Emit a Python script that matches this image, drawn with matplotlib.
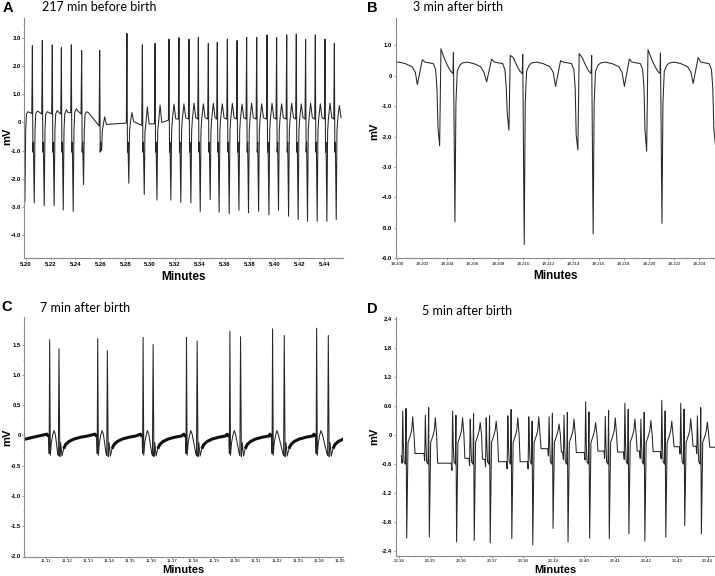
import numpy as np
import matplotlib.pyplot as plt
from matplotlib.ticker import MultipleLocator, FixedLocator, FixedFormatter

# ---------------- Panel A: 217 min before birth ----------------
a_times = [5.1979, 5.2054, 5.2134, 5.2214, 5.2287, 5.2367, 5.2450, 5.2595, 5.2814,
           5.2938, 5.3040, 5.3152, 5.3232, 5.3313, 5.3388, 5.3468, 5.3540, 5.3621,
           5.3699, 5.3776, 5.3857, 5.3940, 5.4017, 5.4098, 5.4175, 5.4250, 5.4328,
           5.4406, 5.4481]
a_peak = [2.7, 2.72, 2.9, 2.75, 2.65, 2.75, 2.55, 2.55, 3.15, 2.75, 2.8, 2.95, 3.0,
          2.95, 3.01, 2.8, 2.84, 2.95, 2.9, 3.01, 3.01, 3.1, 3.01, 3.1, 3.13, 2.94,
          3.1, 2.95, 2.8]
a_trough = [-2.8, -2.85, -2.95, -2.95, -3.1, -3.15, -2.2, -1.0, -2.15, -2.55, -2.75,
            -2.75, -2.83, -2.85, -3.15, -2.73, -3.18, -3.23, -3.11, -3.2, -3.15,
            -3.27, -3.11, -3.32, -3.44, -3.5, -3.5, -3.5, -3.44]
a_hump = [0.38, 0.4, 0.38, 0.42, 0.45, 0.48, 0.38, 0.2, 0.35, 0.55, 0.62, 0.65, 0.66,
          0.68, 0.66, 0.68, 0.66, 0.68, 0.65, 0.68, 0.66, 0.68, 0.66, 0.68, 0.66,
          0.68, 0.66, 0.68, 0.6]
a_base = [0.3, 0.32, 0.3, 0.3, 0.3, 0.35, 0.3, -0.12, -0.02, -0.1, -0.05, 0.08, 0.12,
          0.12, 0.12, 0.12, 0.12, 0.12, 0.12, 0.12, 0.12, 0.12, 0.12, 0.12, 0.12,
          0.12, 0.12, 0.12, 0.12, 0.05]
a_shape_t = [-0.0005, 0.0, 0.0004, 0.0008, 0.0015, 0.0021, 0.0027, 0.0040, 0.0054]
a_xticks = [5.20, 5.22, 5.24, 5.26, 5.28, 5.30, 5.32, 5.34, 5.36, 5.38, 5.40, 5.42, 5.44]
a_xlabels = ['5.20', '5.22', '5.24', '5.26', '5.28', '5.30', '5.32', '5.34', '5.36',
             '5.38', '5.40', '5.42', '5.44']
a_yticks = [3, 2, 1, 0, -1, -2, -3, -4]
a_ylabels = ['3.0', '2.0', '1.0', '0', '-1.0', '-2.0', '-3.0', '-4.0']

# ---------------- Panel B: 3 min after birth ----------------
b_times = [18.19916, 18.2046, 18.2101, 18.21557, 18.22103, 18.22649]
b_drop1 = [-1.7, -1.7, -1.25, -1.95, -1.8, -1.7]
b_drop2 = [-2.3, -2.3, -1.79, -2.44, -2.48, -2.3]
b_rebound = [0.88, 0.89, 0.67, 0.73, 0.86, 0.85]
b_spike = [0.75, 0.76, 0.7, 0.67, 0.75, 0.75]
b_down = [-4.8, -4.8, -5.55, -5.2, -4.85, -4.9]
b_dip = [-0.25, -0.29, -0.2, -0.35, -0.35, -0.25]
b_hump = [0.55, 0.53, 0.55, 0.5, 0.55, 0.6]
b_shape_t = [-113, -98, -90, -65, -58, -54, -51, -46, -42, -33, -23, -13, -6, -4.5, 0,
             3, 7, 15, 22, 37, 57, 77, 87]
b_xticks = [18.200, 18.202, 18.204, 18.206, 18.208, 18.210, 18.212, 18.214, 18.216,
            18.218, 18.220, 18.222, 18.224]
b_xlabels = ['18.200', '18.202', '18.204', '18.206', '18.208', '18.210', '18.212',
             '18.214', '18.216', '18.218', '18.220', '18.222', '18.224']
b_yticks = [1, 0, -1, -2, -3, -4, -5, -6]
b_ylabels = ['1.0', '0', '-1.0', '-2.0', '-3.0', '-4.0', '-5.0', '-6.0']

# ---------------- Panel C: 7 min after birth ----------------
c_times = [11.11159, 11.1345, 11.15614, 11.17682, 11.19751, 11.21787, 11.23887]
c_gap = [0.00445, 0.00461, 0.00477, 0.00509, 0.00509, 0.00557, 0.00557]
c_p1 = [1.58, 1.6, 1.62, 1.62, 1.72, 1.76, 1.77]
c_p2 = [1.43, 1.4, 1.5, 1.56, 1.63, 1.65, 1.65]
c_lead_t = [11.0990, 11.1050]
c_lead_v = [-0.07, -0.02]
c_pre_t = [-8, -3, -1.5, 0, 2, 5, 9, 13, 17]
c_pre_v = [0.02, -0.02, -0.3, None, -0.33, -0.12, 0.0, 0.08, 0.02]
c_post_t = [-4, -2, 0, 2.5, 5, 9, 14, 20, 30, 45, 65, 85]
c_post_v = [-0.3, -0.33, None, -0.35, -0.12, -0.34, -0.22, -0.15, -0.1, -0.06, -0.03, -0.01]
c_xticks = [11.11, 11.12, 11.13, 11.14, 11.15, 11.16, 11.17, 11.18, 11.19, 11.20,
            11.21, 11.22, 11.23, 11.24, 11.25]
c_xlabels = ['11.11', '11.12', '11.13', '11.14', '11.15', '11.16', '11.17', '11.18',
             '11.19', '11.20', '11.21', '11.22', '11.23', '11.24', '11.25']
c_yticks = [1.5, 1.0, 0.5, 0, -0.5, -1.0, -1.5, -2.0]
c_ylabels = ['1.5', '1.0', '0.5', '0', '-0.5', '-1.0', '-1.5', '-2.0']

# ---------------- Panel D: 5 min after birth ----------------
d_times = [23.34237, 23.34971, 23.35855, 23.36427, 23.36945, 23.37646, 23.38326,
           23.38984, 23.39469, 23.4017, 23.40807, 23.41443, 23.41961, 23.4264,
           23.43255, 23.43795]
d_down = [-2.13, -2.11, -2.21, -2.18, -2.23, -2.14, -2.27, -1.93, -2.21, -2.13, -2.14,
          -2.04, -2.19, -2.11, -1.87, -2.04]
d_up1 = [0.5, 0.41, 0.5, 0.33, 0.36, 0.4, 0.38, 0.38, 0.41, 0.69, 0.39, 0.66, 0.33,
         0.72, 0.66, 0.4]
d_up2 = [0.55, 0.57, 0.41, 0.45, 0.4, 0.53, 0.29, 0.45, 0.47, 0.48, 0.51, 0.53, 0.47,
         0.5, 0.54, 0.57]
d_hump = [0.38, 0.36, 0.36, 0.26, 0.29, 0.36, 0.38, 0.23, 0.33, 0.26, 0.36, 0.33, 0.3,
          0.29, 0.34, 0.27]
d_base = [-0.43, -0.38, -0.58, -0.48, -0.5, -0.55, -0.55, -0.28, -0.35, -0.36, -0.33,
          -0.35, -0.33, -0.34, -0.24, -0.23, -0.25]
d_shape_t = [-16, -14, -12, -10, -8, -4, -2, 0, 4, 9, 12, 15, 18, 22, 25]
d_xticks = [23.34, 23.35, 23.36, 23.37, 23.38, 23.39, 23.40, 23.41, 23.42, 23.43, 23.44]
d_xlabels = ['23.34', '23.35', '23.36', '23.37', '23.38', '23.39', '23.40', '23.41',
             '23.42', '23.43', '23.44']
d_yticks = [2.4, 1.8, 1.2, 0.6, 0, -0.6, -1.2, -1.8, -2.4]
d_ylabels = ['2.4', '1.8', '1.2', '0.6', '0', '-0.6', '-1.2', '-1.8', '-2.4']

# ---------------- build traces ----------------
ax_t, ax_v = [], []
for i, t in enumerate(a_times):
    vals = [a_base[i], a_peak[i], -1.05, -0.7, a_trough[i], -0.3, a_base[i],
            a_hump[i], a_base[i] + 0.05]
    ax_t += [t + d for d in a_shape_t]
    ax_v += vals

bx_t, bx_v = [], []
for i, t in enumerate(b_times):
    vals = [b_dip[i], b_hump[i], 0.45, 0.4, 0.2, -0.4, b_drop1[i], b_drop2[i],
            b_rebound[i], 0.6, 0.35, 0.15, 0.08, b_spike[i], b_down[i], -0.9, 0.15,
            0.35, 0.42, 0.45, 0.4, 0.3, 0.12]
    bx_t += [t + d * 2.639e-5 for d in b_shape_t]
    bx_v += vals

cx_t, cx_v, c_band = list(c_lead_t), list(c_lead_v), [True, True]
for i, t in enumerate(c_times):
    for d, v in zip(c_pre_t, c_pre_v):
        cx_t.append(t + d * 1.591e-4)
        cx_v.append(c_p1[i] if v is None else v)
        c_band.append(d in (-8, -3))
    t2 = t + c_gap[i]
    for d, v in zip(c_post_t, c_post_v):
        cx_t.append(t2 + d * 1.591e-4)
        cx_v.append(c_p2[i] if v is None else v)
        c_band.append(d >= 14)
cx_t, cx_v = np.array(cx_t), np.array(cx_v)
c_band_v = np.where(np.array(c_band), cx_v, np.nan)

dx_t, dx_v = [], []
for i, t in enumerate(d_times):
    b0, b1 = d_base[i], d_base[i + 1]
    vals = [b0, b0 - 0.15, d_up1[i], -0.2, -0.55, -0.6, d_up2[i], d_down[i], -0.15,
            -0.05, 0.02, 0.1, d_hump[i], 0.0, b1]
    dx_t += [t + d * 1.0787e-4 for d in d_shape_t]
    dx_v += vals
dx_t.append(23.445)
dx_v.append(d_base[-1])

# ---------------- figure ----------------
W, H = 715, 576
fig = plt.figure(figsize=(W / 100, H / 100), dpi=100)


def make_axes(l, r, top, bot):
    return fig.add_axes([l / W, 1 - bot / H, (r - l) / W, (bot - top) / H])


def style(ax, xt, xl, yt, yl, xminor, yminor, xfs, xweight, ylab_pos, xlab_y,
          xlab_fs=8.5, xpad=1.0):
    for s in ['top', 'right']:
        ax.spines[s].set_visible(False)
    for s in ['left', 'bottom']:
        ax.spines[s].set_color('#8a8a8a')
        ax.spines[s].set_linewidth(0.8)
    ax.xaxis.set_major_locator(FixedLocator(xt))
    ax.xaxis.set_major_formatter(FixedFormatter(xl))
    ax.yaxis.set_major_locator(FixedLocator(yt))
    ax.yaxis.set_major_formatter(FixedFormatter(yl))
    ax.xaxis.set_minor_locator(MultipleLocator(xminor))
    ax.yaxis.set_minor_locator(MultipleLocator(yminor))
    ax.tick_params(which='major', length=1.6, width=0.6, color='#8a8a8a', pad=1.0)
    ax.tick_params(which='minor', length=1.0, width=0.5, color='#8a8a8a')
    ax.tick_params(axis='x', which='major', pad=xpad)
    for lab in ax.get_xticklabels():
        lab.set_fontsize(xfs)
        lab.set_fontweight(xweight)
        lab.set_family('Liberation Sans')
    for lab in ax.get_yticklabels():
        lab.set_fontsize(4.2)
        lab.set_fontweight('bold')
        lab.set_family('Liberation Sans')
    ax.set_xlabel('Minutes', fontsize=xlab_fs, fontweight='bold', family='Liberation Sans')
    ax.xaxis.set_label_coords(0.5, xlab_y)
    ax.xaxis.label.set_va('baseline')
    ax.set_ylabel('mV', fontsize=8, fontweight='bold', family='Liberation Sans')
    ax.yaxis.set_label_coords(ylab_pos[0], ylab_pos[1])
    ax.yaxis.label.set_va('center')


line_kw = dict(color='#262626', lw=0.75)

axA = make_axes(24.3, 342.7, 18, 258)
axA.plot(ax_t, ax_v, **line_kw)
axA.set_xlim(5.1989, 5.4548)
axA.set_ylim(-4.8, 3.7)
style(axA, a_xticks, a_xlabels, a_yticks, a_ylabels, 0.01, 0.5, 4.3, 'bold',
      (-0.055, 0.505), -0.092)

axB = make_axes(395.7, 714.5, 18, 258.3)
axB.plot(bx_t, bx_v, **line_kw)
axB.set_xlim(18.1999, 18.2252)
axB.set_ylim(-6.0, 1.9)
style(axB, b_xticks, b_xlabels, b_yticks, b_ylabels, 0.001, 0.5, 3.2, 'normal',
      (-0.066, 0.527), -0.087)

axC = make_axes(24.3, 342.7, 316.7, 556.5)
axC.plot(cx_t, cx_v, **line_kw)
axC.plot(cx_t, c_band_v, color='#111111', lw=2.2, solid_capstyle='butt')
axC.set_xlim(11.0995, 11.2513)
axC.set_ylim(-2.0, 1.96)
style(axC, c_xticks, c_xlabels, c_yticks, c_ylabels, 0.005, 0.25, 3.2, 'normal',
      (-0.055, 0.497), -0.070, xlab_fs=8, xpad=0.5)

axD = make_axes(395.7, 714.5, 316.7, 556)
axD.plot(dx_t, dx_v, **line_kw)
axD.set_xlim(23.3388, 23.4422)
axD.set_ylim(-2.5, 2.45)
style(axD, d_xticks, d_xlabels, d_yticks, d_ylabels, 0.005, 0.3, 3.2, 'normal',
      (-0.066, 0.502), -0.072, xlab_fs=8, xpad=0.5)

# panel letters and titles
letters = ['A', 'B', 'C', 'D']
titles = ['217 min before birth', '3 min after birth', '7 min after birth',
          '5 min after birth']
letter_xy = [(8, 8), (372, 8), (7, 307), (372, 309)]
title_xy = [(41.7, 7), (413.3, 7), (40, 308), (421.7, 311)]
for L, T, (lx, ly), (tx, ty) in zip(letters, titles, letter_xy, title_xy):
    fig.text(lx / W, 1 - ly / H, L, fontsize=10.5, fontweight='bold',
             family='Liberation Sans', ha='center', va='center')
    fig.text(tx / W, 1 - ty / H, T, fontsize=9, family='Lato', ha='left', va='center')

fig.savefig('out.png', dpi=100)
